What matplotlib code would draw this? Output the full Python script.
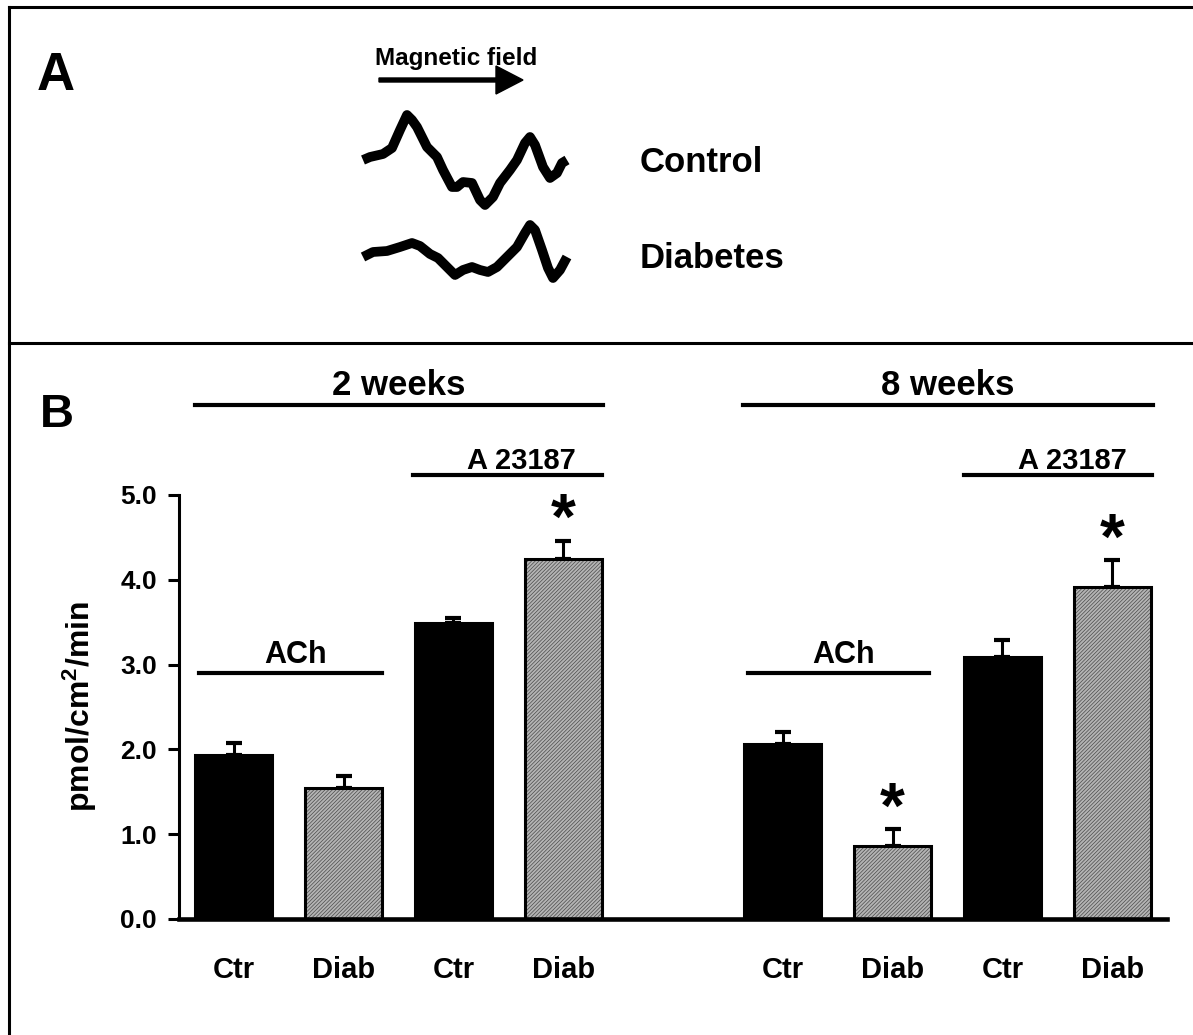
import matplotlib
matplotlib.use('Agg')
import matplotlib.pyplot as plt
import numpy as np

plt.rcParams['font.family'] = ['Liberation Sans', 'DejaVu Sans']
plt.rcParams['font.weight'] = 'bold'
plt.rcParams['axes.labelweight'] = 'bold'
plt.rcParams['mathtext.fontset'] = 'custom'
plt.rcParams['mathtext.rm'] = 'Liberation Sans:bold'
plt.rcParams['mathtext.it'] = 'Liberation Sans:bold'
plt.rcParams['mathtext.bf'] = 'Liberation Sans:bold'
plt.rcParams['hatch.linewidth'] = 0.5

# ---- panel B data ----
bar_pos = [0, 1, 2, 3, 5, 6, 7, 8]
bar_labels = ['Ctr', 'Diab', 'Ctr', 'Diab', 'Ctr', 'Diab', 'Ctr', 'Diab']
no_release = [1.93, 1.55, 3.49, 4.25, 2.06, 0.86, 3.09, 3.92]
no_sem = [0.15, 0.14, 0.06, 0.21, 0.15, 0.20, 0.20, 0.31]
diabetic = [False, True, False, True, False, True, False, True]
significant = [False, False, False, True, False, True, False, True]

week_labels = ['2 weeks', '8 weeks']
week_spans = [(-0.35, 3.36), (4.64, 8.37)]
ach_spans = [(-0.32, 1.35), (4.68, 6.33)]
a23187_spans = [(1.63, 3.35), (6.65, 8.36)]

# ---- panel A traces (pixel positions) ----
ctrl_x = [363, 370, 383, 392, 400, 407, 412, 417, 427, 437, 443, 452, 457, 463, 472,
          480, 485, 493, 500, 510, 517, 525, 530, 535, 543, 550, 557, 562, 567]
ctrl_y = [160, 157, 154, 148, 130, 115, 120, 127, 147, 157, 170, 187, 187, 182, 183,
          200, 205, 197, 183, 170, 160, 143, 137, 145, 167, 178, 173, 163, 160]
diab_x = [363, 373, 387, 400, 412, 420, 430, 438, 447, 455, 463, 472, 480, 488, 497,
          507, 517, 525, 530, 535, 542, 548, 553, 560, 567]
diab_y = [257, 252, 251, 247, 243, 246, 254, 258, 267, 275, 270, 267, 270, 272, 267,
          257, 247, 233, 225, 230, 250, 268, 278, 270, 257]

fig = plt.figure(figsize=(11.93, 10.35), dpi=100)

# overlay in pixel coordinates for frame, panel A and panel letters
ov = fig.add_axes([0, 0, 1, 1])
ov.set_xlim(0, 1193)
ov.set_ylim(1035, 0)
ov.axis('off')

ov.plot([9, 9], [7, 1035], color='k', lw=2.2)
ov.plot([9, 1193], [7, 7], color='k', lw=2.2)
ov.plot([9, 1193], [343, 343], color='k', lw=2.2)

ov.text(37, 90, 'A', fontsize=38, va='baseline', ha='left')
ov.text(40, 427, 'B', fontsize=34, va='baseline', ha='left')

ov.text(375, 65, 'Magnetic field', fontsize=17.5, va='baseline', ha='left')
ov.arrow(379, 80, 144, 0, width=4, head_width=28, head_length=27,
         length_includes_head=True, fc='k', ec='k')

ov.plot(ctrl_x, ctrl_y, color='k', lw=7, solid_joinstyle='round', solid_capstyle='butt')
ov.plot(diab_x, diab_y, color='k', lw=7, solid_joinstyle='round', solid_capstyle='butt')
ov.text(640, 172, 'Control', fontsize=25, va='baseline', ha='left')
ov.text(640, 268, 'Diabetes', fontsize=25, va='baseline', ha='left')

# bar chart
ax = fig.add_axes([179 / 1193, 1 - 919 / 1035, 988 / 1193, 424 / 1035])
ax.set_facecolor('none')

for p, v, d in zip(bar_pos, no_release, diabetic):
    if d:
        ax.bar(p, v, width=0.7, color='#b4b4b4', edgecolor='#4a4a4a',
               hatch='/////////', lw=0, zorder=2)
        ax.bar(p, v, width=0.7, fill=False, edgecolor='k', lw=2.2, zorder=3)
    else:
        ax.bar(p, v, width=0.7, color='k', edgecolor='k', lw=2.2, zorder=3)

ax.errorbar(bar_pos, no_release, yerr=[np.zeros(len(no_sem)), no_sem], fmt='none',
            ecolor='k', elinewidth=2.2, capsize=6, capthick=3, zorder=1)

for p, v, s, sig in zip(bar_pos, no_release, no_sem, significant):
    if sig:
        ax.text(p, v + s + 0.02, '*', ha='center', va='baseline', fontsize=46)

for (a, b), lab in zip(week_spans, week_labels):
    ax.plot([a, b], [6.06, 6.06], color='k', lw=3, clip_on=False)
    ax.text((a + b) / 2, 6.18, lab, ha='center', va='baseline', fontsize=25)
for a, b in a23187_spans:
    ax.plot([a, b], [5.24, 5.24], color='k', lw=3, clip_on=False)
    ax.text((a + b) / 2 + 0.13, 5.31, 'A 23187', ha='center', va='baseline', fontsize=21)
for a, b in ach_spans:
    ax.plot([a, b], [2.90, 2.90], color='k', lw=3, clip_on=False)
    ax.text((a + b) / 2 + 0.05, 3.02, 'ACh', ha='center', va='baseline', fontsize=22)

ax.set_xlim(-0.5, 8.5)
ax.set_ylim(0, 5)
ax.spines['top'].set_visible(False)
ax.spines['right'].set_visible(False)
ax.spines['left'].set_linewidth(2.2)
ax.spines['bottom'].set_linewidth(3.3)
ax.set_xticks(bar_pos, bar_labels)
ax.tick_params(axis='x', length=0, pad=27, labelsize=21)
ax.set_yticks(np.arange(0, 5.1, 1.0))
ax.yaxis.set_major_formatter(matplotlib.ticker.FormatStrFormatter('%.1f'))
ax.tick_params(axis='y', length=8, width=2.2, pad=8, labelsize=19)
ax.set_ylabel(r'pmol/cm$^{2}$/min', fontsize=23, fontweight='bold')
ax.yaxis.set_label_coords(-0.081, 0.5)

fig.savefig('out.png', dpi=100)
